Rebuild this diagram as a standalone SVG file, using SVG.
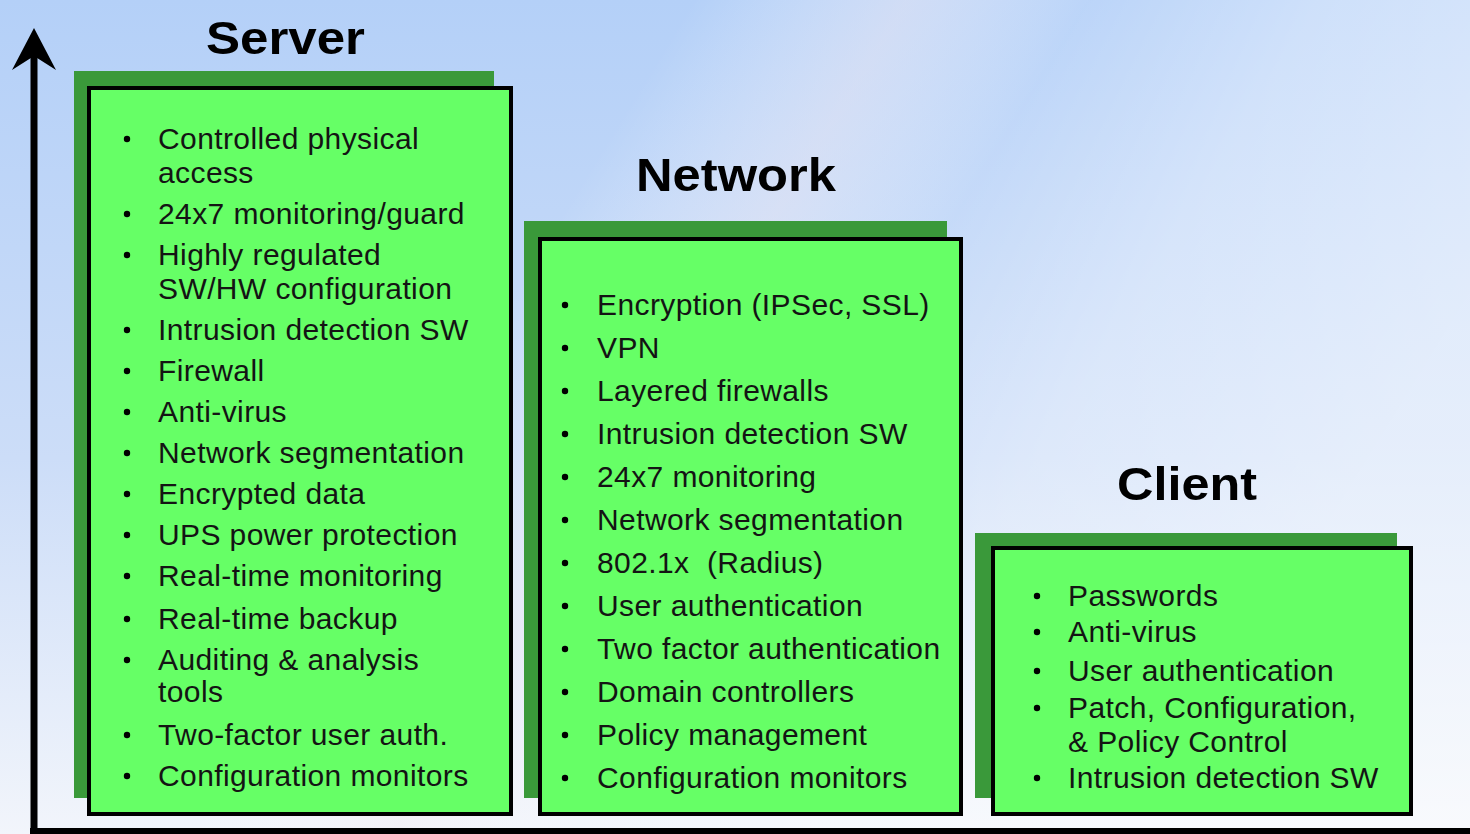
<svg xmlns="http://www.w3.org/2000/svg" width="1470" height="834" viewBox="0 0 1470 834">
<defs>
<linearGradient id="bg" x1="0" y1="0" x2="0" y2="1">
<stop offset="0" stop-color="#B4D0F8"/>
<stop offset="0.55" stop-color="#CCDDF8"/>
<stop offset="1" stop-color="#F2F5FB"/>
</linearGradient>
<linearGradient id="streak" x1="0" y1="0" x2="1" y2="0.35">
<stop offset="0" stop-color="#FFFFFF" stop-opacity="0"/>
<stop offset="0.42" stop-color="#FFFFFF" stop-opacity="0"/>
<stop offset="0.55" stop-color="#F4ECF2" stop-opacity="0.45"/>
<stop offset="0.66" stop-color="#FFFFFF" stop-opacity="0.1"/>
<stop offset="0.8" stop-color="#FFFFFF" stop-opacity="0.35"/>
<stop offset="1" stop-color="#FFFFFF" stop-opacity="0.5"/>
</linearGradient>
<style>
.shadow{fill:#3A993A}
.box{fill:#66FF66;stroke:#000;stroke-width:4}
.title{font-family:"Liberation Sans",Arial,sans-serif;font-weight:bold;font-size:47px;fill:#000}
.item{font-family:"Liberation Sans",Arial,sans-serif;font-size:30px;letter-spacing:0.4px;fill:#141414}
.dot{fill:#000}
</style>
</defs>
<rect x="0" y="0" width="1470" height="834" fill="url(#bg)"/>
<rect x="0" y="0" width="1470" height="834" fill="url(#streak)"/>

<g id="axes">
<line x1="34" y1="50" x2="34" y2="834" stroke="#000" stroke-width="7"/>
<line x1="30" y1="831" x2="1470" y2="831" stroke="#000" stroke-width="6"/>
<path d="M34,28 L56,70 L34,56 L12,70 Z" fill="#000"/>
</g>

<g id="server">
<text class="title" x="206" y="54" textLength="159" lengthAdjust="spacingAndGlyphs">Server</text>
<rect class="shadow" x="74" y="71" width="420" height="727"/>
<rect class="box" x="89" y="88" width="422" height="726"/>
<g class="dot">
<circle cx="127" cy="139" r="3.2"/><circle cx="127" cy="214" r="3.2"/><circle cx="127" cy="255" r="3.2"/>
<circle cx="127" cy="330" r="3.2"/><circle cx="127" cy="371" r="3.2"/><circle cx="127" cy="412" r="3.2"/>
<circle cx="127" cy="453" r="3.2"/><circle cx="127" cy="494" r="3.2"/><circle cx="127" cy="535" r="3.2"/>
<circle cx="127" cy="576" r="3.2"/><circle cx="127" cy="619" r="3.2"/><circle cx="127" cy="660" r="3.2"/>
<circle cx="127" cy="735" r="3.2"/><circle cx="127" cy="776" r="3.2"/>
</g>
<text class="item" x="158" y="149">Controlled physical</text>
<text class="item" x="158" y="183">access</text>
<text class="item" x="158" y="224">24x7 monitoring/guard</text>
<text class="item" x="158" y="265">Highly regulated</text>
<text class="item" x="158" y="299">SW/HW configuration</text>
<text class="item" x="158" y="340">Intrusion detection SW</text>
<text class="item" x="158" y="381">Firewall</text>
<text class="item" x="158" y="422">Anti-virus</text>
<text class="item" x="158" y="463">Network segmentation</text>
<text class="item" x="158" y="504">Encrypted data</text>
<text class="item" x="158" y="545">UPS power protection</text>
<text class="item" x="158" y="586">Real-time monitoring</text>
<text class="item" x="158" y="629">Real-time backup</text>
<text class="item" x="158" y="670">Auditing &amp; analysis</text>
<text class="item" x="158" y="702">tools</text>
<text class="item" x="158" y="745">Two-factor user auth.</text>
<text class="item" x="158" y="786">Configuration monitors</text>
</g>

<g id="network">
<text class="title" x="636" y="191" textLength="200" lengthAdjust="spacingAndGlyphs">Network</text>
<rect class="shadow" x="524" y="221" width="423" height="577"/>
<rect class="box" x="540" y="239" width="421" height="575"/>
<g class="dot">
<circle cx="565" cy="305" r="3.2"/><circle cx="565" cy="348" r="3.2"/><circle cx="565" cy="391" r="3.2"/>
<circle cx="565" cy="434" r="3.2"/><circle cx="565" cy="477" r="3.2"/><circle cx="565" cy="520" r="3.2"/>
<circle cx="565" cy="563" r="3.2"/><circle cx="565" cy="606" r="3.2"/><circle cx="565" cy="649" r="3.2"/>
<circle cx="565" cy="692" r="3.2"/><circle cx="565" cy="735" r="3.2"/><circle cx="565" cy="778" r="3.2"/>
</g>
<text class="item" x="597" y="315">Encryption (IPSec, SSL)</text>
<text class="item" x="597" y="358">VPN</text>
<text class="item" x="597" y="401">Layered firewalls</text>
<text class="item" x="597" y="444">Intrusion detection SW</text>
<text class="item" x="597" y="487">24x7 monitoring</text>
<text class="item" x="597" y="530">Network segmentation</text>
<text class="item" x="597" y="573" xml:space="preserve">802.1x  (Radius)</text>
<text class="item" x="597" y="616">User authentication</text>
<text class="item" x="597" y="659">Two factor authentication</text>
<text class="item" x="597" y="702">Domain controllers</text>
<text class="item" x="597" y="745">Policy management</text>
<text class="item" x="597" y="788">Configuration monitors</text>
</g>

<g id="client">
<text class="title" x="1117" y="500" textLength="140" lengthAdjust="spacingAndGlyphs">Client</text>
<rect class="shadow" x="975" y="533" width="422" height="265"/>
<rect class="box" x="993" y="548" width="418" height="266"/>
<g class="dot">
<circle cx="1037" cy="596" r="3.2"/><circle cx="1037" cy="632" r="3.2"/><circle cx="1037" cy="671" r="3.2"/>
<circle cx="1037" cy="708" r="3.2"/><circle cx="1037" cy="778" r="3.2"/>
</g>
<text class="item" x="1068" y="606">Passwords</text>
<text class="item" x="1068" y="642">Anti-virus</text>
<text class="item" x="1068" y="681">User authentication</text>
<text class="item" x="1068" y="718">Patch, Configuration,</text>
<text class="item" x="1068" y="752">&amp; Policy Control</text>
<text class="item" x="1068" y="788">Intrusion detection SW</text>
</g>
</svg>
